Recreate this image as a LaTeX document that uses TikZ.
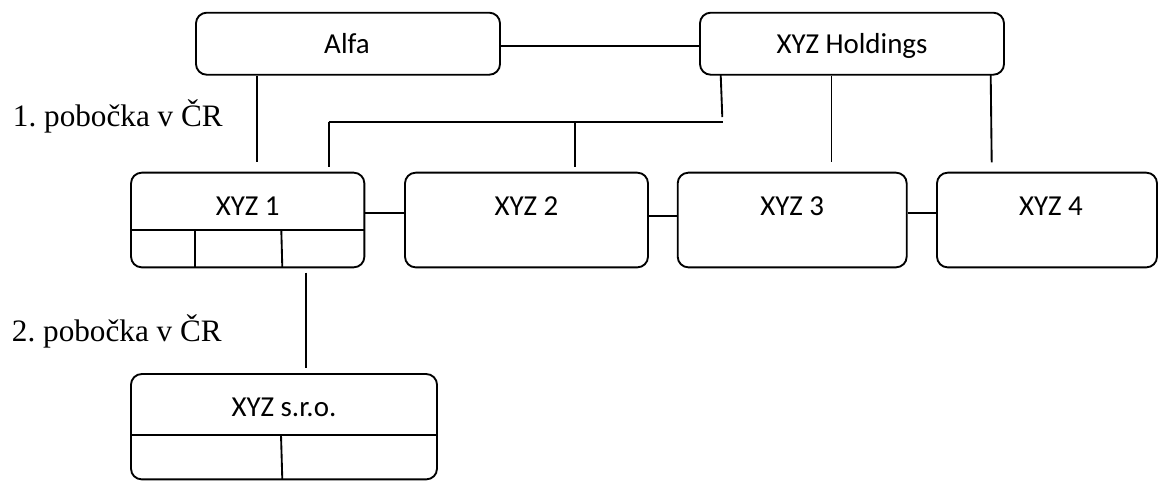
\documentclass[tikz,border=0pt]{standalone}
\usepackage{fontspec}
\setmainfont{Liberation Serif}
\newfontfamily\boxfont{Carlito}
\frenchspacing
\begin{document}
\begin{tikzpicture}[x=0.75pt,y=-0.75pt,
  box/.style={draw, line width=1.4pt, rounded corners=8pt, inner sep=0pt},
  boxlabel/.style={font=\boxfont\fontsize{21.7}{25}\selectfont, anchor=base, inner sep=0pt},
  sidelabel/.style={font=\frenchspacing\fontsize{23.4}{28}\selectfont, anchor=base west, inner sep=0pt},
  conn/.style={line width=1.4pt},
  divider/.style={line width=1.4pt}]
\useasboundingbox (0,0) rectangle (1158,480);

% top row
\node[box, minimum width=228pt, minimum height=46.5pt] (alfa) at (348,43.7) {};
\node[boxlabel] (alfat) at (347,53.3) {Alfa};
\node[box, minimum width=228pt, minimum height=46.5pt] (hold) at (852,43.7) {};
\node[boxlabel] (holdt) at (852,53.3) {XYZ Holdings};

% middle row
\node[box, minimum width=175pt, minimum height=71pt] (x1) at (247.7,220) {};
\node[boxlabel] (x1t) at (247.7,215) {XYZ 1};
\node[box, minimum width=182.25pt, minimum height=71pt] (x2) at (526.5,220) {};
\node[boxlabel] (x2t) at (526.5,215) {XYZ 2};
\node[box, minimum width=171.75pt, minimum height=71pt] (x3) at (792.2,220) {};
\node[boxlabel] (x3t) at (792.2,215) {XYZ 3};
\node[box, minimum width=165pt, minimum height=71pt] (x4) at (1047,220) {};
\node[boxlabel] (x4t) at (1051,215) {XYZ 4};

% bottom box
\node[box, minimum width=229.5pt, minimum height=79pt] (sro) at (284,426.7) {};
\node[boxlabel] (srot) at (284,416.7) {XYZ s.r.o.};

% inner dividers
\draw[divider] (131,230) -- (364.3,230);
\draw[divider] (195.3,230) -- (195.3,267.3);
\draw[divider] (281.3,230) -- (282.3,267.3);
\draw[divider] (131,435) -- (437,435);
\draw[divider] (281,435) -- (282.3,479.3);

% side labels
\node[sidelabel] (l1) at (12.7,126.7) {1. pobočka v ČR};
\node[sidelabel] (l2) at (11.7,341.7) {2. pobočka v ČR};

% connector end points
\coordinate (a1end) at (256.7,162);
\coordinate (h1top) at (720.7,74.7);
\coordinate (h1end) at (722.3,117);
\coordinate (busL) at (328.7,122);
\coordinate (busR) at (722.7,122);
\coordinate (busLend) at (328.7,167);
\coordinate (busM) at (574.7,122);
\coordinate (busMend) at (574.7,167.3);
\coordinate (h2end) at (831.5,162.3);
\coordinate (h3top) at (990.7,74.7);
\coordinate (h3end) at (991.7,162.3);
\coordinate (s1top) at (306.3,272.7);
\coordinate (s1end) at (306.3,368.3);

% connectors
\draw[conn] ([yshift=-1.7pt]alfa.east) -- ([yshift=-1.7pt]hold.west);
\draw[conn] (alfa.south -| a1end) -- (a1end);
\draw[conn] (h1top) -- (h1end);
\draw[conn] (busL) -- (busR);
\draw[conn] (busL) -- (busLend);
\draw[conn] (busM) -- (busMend);
\draw[conn] (hold.south -| h2end) -- (h2end);
\draw[conn] (h3top) -- (h3end);
\draw[conn] ([yshift=5pt]x1.east) -- ([yshift=5pt]x2.west);
\draw[conn] ([yshift=3pt]x2.east) -- ([yshift=3pt]x3.west);
\draw[conn] ([yshift=5pt]x3.east) -- ([yshift=5pt]x4.west);
\draw[conn] (s1top) -- (s1end);
\end{tikzpicture}
\end{document}
